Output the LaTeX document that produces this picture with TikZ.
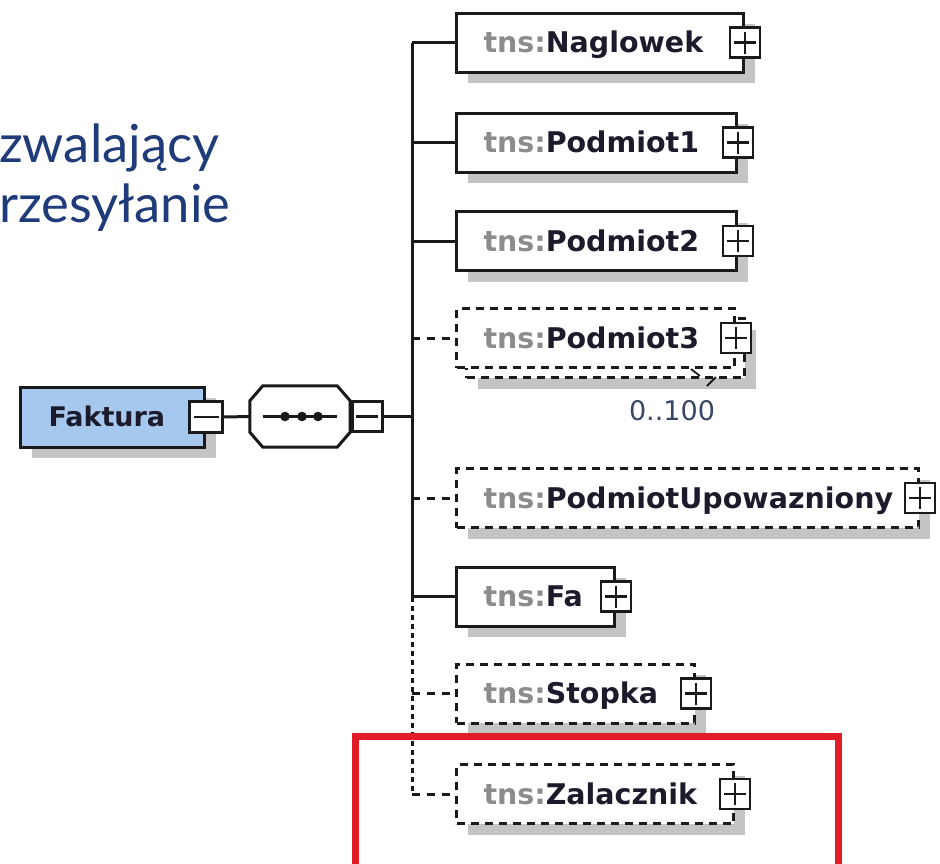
\documentclass[tikz,border=0pt]{standalone}
\usepackage{fontspec}
\setmainfont{DejaVu Sans}
\newfontfamily\latofont{Lato}
\usetikzlibrary{shadows}
\definecolor{linec}{HTML}{1A1A1A}
\definecolor{shadc}{HTML}{C4C4C4}
\definecolor{tnsc}{HTML}{8C8C8C}
\definecolor{namec}{HTML}{1B1B2B}
\definecolor{fakfill}{HTML}{A7C8EE}
\definecolor{titlec}{HTML}{1F3B7A}
\definecolor{redc}{HTML}{E11D2A}
\definecolor{multc}{HTML}{3A4868}
\newcommand\tns[1]{\textcolor{tnsc}{tns:}\textcolor{namec}{#1}}
\tikzset{
  shad/.style={general shadow={fill=shadc, shadow xshift=11pt, shadow yshift=-11pt}},
  elem/.style={draw=linec, line width=3pt, fill=white, minimum height=59pt,
    inner xsep=27pt, inner ysep=0pt, anchor=west, align=left,
    text height=20.5pt, text depth=0pt, font=\fontsize{28.5}{30}\selectfont\bfseries},
  optelem/.style={elem, dash pattern=on 8pt off 6pt},
  pmbox/.style={draw=linec, line width=2.4pt, fill=white, minimum width=30pt,
    minimum height=30pt, inner sep=0pt},
  plusbox/.style={pmbox, path picture={\draw[linec, line width=2.4pt]
    ([xshift=4pt]path picture bounding box.west) -- ([xshift=-4pt]path picture bounding box.east)
    ([yshift=-4pt]path picture bounding box.north) -- ([yshift=4pt]path picture bounding box.south);}},
  minusbox/.style={pmbox, path picture={\draw[linec, line width=2.4pt]
    ([xshift=4pt]path picture bounding box.west) -- ([xshift=-4pt]path picture bounding box.east);}},
  conn/.style={draw=linec, line width=3pt},
  connd/.style={conn, dash pattern=on 8pt off 7pt},
  conndot/.style={conn, dash pattern=on 5pt off 4pt},
  title/.style={font=\latofont\fontsize{52.5}{60}\selectfont, text=titlec, anchor=base west, inner sep=0pt},
  octo/.style={draw=linec, line width=3pt, fill=white, line join=miter}
}
\begin{document}
\begin{tikzpicture}[x=1pt,y=-1pt]
\useasboundingbox (0,0) rectangle (940,863);
\clip (0,0) rectangle (940,863);
\fill[white] (0,0) rectangle (940,863);

% title text
\node[title] (t1) at (-1,162) {zwalający};
\node[title] (t2) at (-1,222) {rzesyłanie};

% root element
\node[elem, shad, fill=fakfill, inner xsep=28pt, text width=128pt, minimum height=60pt,
      font=\fontsize{27}{30}\selectfont\bfseries, text height=19.5pt] (fak) at (19,417)
      {\textcolor{namec}{Faktura}};
\node[minusbox, minimum width=33pt, minimum height=31pt] (fakm) at (fak.east) {};

% sequence compositor (octagon drawn around an invisible node)
\node[minimum width=100pt, minimum height=61pt, inner sep=0pt] (seq) at (300,416.5) {};
\fill[shadc, xshift=11pt, yshift=-11pt]
  ([xshift=13pt]seq.north west) -- ([xshift=-13pt]seq.north east) -- ([yshift=-15pt]seq.north east)
  -- ([yshift=15pt]seq.south east) -- ([xshift=-13pt]seq.south east) -- ([xshift=13pt]seq.south west)
  -- ([yshift=15pt]seq.south west) -- ([yshift=-15pt]seq.north west) -- cycle;
\path[octo]
  ([xshift=13pt]seq.north west) -- ([xshift=-13pt]seq.north east) -- ([yshift=-15pt]seq.north east)
  -- ([yshift=15pt]seq.south east) -- ([xshift=-13pt]seq.south east) -- ([xshift=13pt]seq.south west)
  -- ([yshift=15pt]seq.south west) -- ([yshift=-15pt]seq.north west) -- cycle;
\draw[conn] ([xshift=13pt]seq.west) -- ([xshift=-13pt]seq.east);
\fill[linec] ([xshift=-15pt]seq.center) circle (4.8pt)
             ([xshift=2pt]seq.center) circle (4.8pt)
             ([xshift=18pt]seq.center) circle (4.8pt);
\node[minusbox, anchor=west, xshift=1pt] (seqm) at (seq.east) {};

% children
\node[elem, shad, text width=233pt] (nag) at (455,42.5) {\tns{Naglowek}};
\node[plusbox] (nagp) at (nag.east) {};
\node[elem, shad, text width=226pt] (p1) at (455,142.5) {\tns{Podmiot1}};
\node[plusbox] (p1p) at (p1.east) {};
\node[elem, shad, text width=226pt] (p2) at (455,241) {\tns{Podmiot2}};
\node[plusbox] (p2p) at (p2.east) {};
\node[optelem, shad, text width=224pt] (p3b) at (465,348) {};
\node[optelem, text width=224pt] (p3) at (455,338) {\tns{Podmiot3}};
\node[plusbox] (p3p) at (p3.east) {};
\node[optelem, shad, text width=408pt] (pu) at (455,498) {\tns{PodmiotUpowazniony}};
\node[plusbox] (pup) at (pu.east) {};
\node[elem, shad, text width=104pt] (fa) at (455,596.5) {\tns{Fa}};
\node[plusbox] (fap) at (fa.east) {};
\node[optelem, shad, text width=184pt] (sto) at (455,693.5) {\tns{Stopka}};
\node[plusbox] (stop) at (sto.east) {};
\node[optelem, shad, text width=223pt] (zal) at (455,794) {\tns{Zalacznik}};
\node[plusbox] (zalp) at (zal.east) {};

% multiplicity
\node[font=\fontsize{27}{30}\selectfont, text=multc, inner sep=0pt] (mult) at (672,411) {0..100};
\draw[linec, line width=1.8pt] (691,369) -- (700,376) (716,377) -- (707,386);

% connectors
\draw[conn] (fakm.east) -- (seq.west);
\coordinate (spx) at (412,0);
\draw[conn] (seqm.east) -- (seqm.east -| spx);
\draw[conn] (spx |- nag.west) -- (spx |- fa.west);
\draw[conndot] (spx |- fa.west) -- (spx |- zal.west);
\foreach \n in {nag,p1,p2,fa} \draw[conn] (spx |- \n.west) -- (\n.west);
\foreach \n in {p3,pu,sto,zal} \draw[connd] (spx |- \n.west) -- (\n.west);

% highlight
\draw[redc, line width=7pt] (355.5,736.5) rectangle (838,867);
\end{tikzpicture}
\end{document}
